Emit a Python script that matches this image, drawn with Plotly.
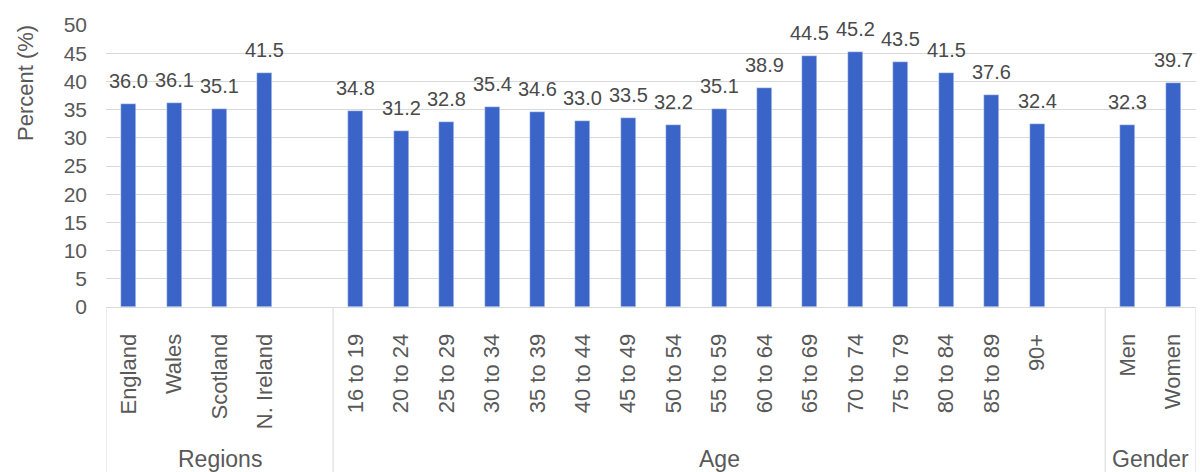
import plotly.graph_objects as go

# ---- data ----
regions = ["England", "Wales", "Scotland", "N. Ireland"]
region_values = [36.0, 36.1, 35.1, 41.5]
ages = ["16 to 19", "20 to 24", "25 to 29", "30 to 34", "35 to 39", "40 to 44",
        "45 to 49", "50 to 54", "55 to 59", "60 to 64", "65 to 69", "70 to 74",
        "75 to 79", "80 to 84", "85 to 89", "90+"]
age_values = [34.8, 31.2, 32.8, 35.4, 34.6, 33.0, 33.5, 32.2, 35.1, 38.9,
              44.5, 45.2, 43.5, 41.5, 37.6, 32.4]
genders = ["Men", "Women"]
gender_values = [32.3, 39.7]
group_names = ["Regions", "Age", "Gender"]

groups = [(regions, region_values), (ages, age_values), (genders, gender_values)]

# ---- build positions (one blank slot after each group except last) ----
xs, ys, labels = [], [], []
group_bounds = []
pos = 0
for gi, (cats, vals) in enumerate(groups):
    start = pos
    for c, v in zip(cats, vals):
        xs.append(pos)
        ys.append(v)
        labels.append(c)
        pos += 1
    if gi < len(groups) - 1:
        pos += 1  # blank slot
    group_bounds.append((start - 0.5, pos - 0.5))
n_slots = pos

BAR = "#3B64C8"
TXT = "#595959"
GRID = "#d9d9d9"
FONT = "Liberation Sans, Arial, sans-serif"

fig = go.Figure()
fig.add_trace(go.Bar(x=xs, y=ys, marker_color=BAR, width=0.33,
                     hoverinfo="x+y"))

W, H = 1200, 472
ml, mr, mt, mb = 106, 4, 25, 165
ph = H - mt - mb

annotations = []
for x, y in zip(xs, ys):
    annotations.append(dict(x=x, y=y, xref="x", yref="y", text=f"{y:.1f}",
                            showarrow=False, yanchor="bottom", yshift=10,
                            font=dict(size=20, color="#4a4a4a", family=FONT)))

shapes = []
bottom = -mb / ph
edges = sorted(set([b[0] for b in group_bounds] + [b[1] for b in group_bounds]))
for e in edges:
    shapes.append(dict(type="line", xref="x", yref="paper", x0=e, x1=e,
                       y0=0, y1=bottom, line=dict(color=GRID, width=1)))

label_y = (307 - 459) / ph
for name, (a, b) in zip(group_names, group_bounds):
    annotations.append(dict(x=(a + b) / 2, y=label_y, xref="x", yref="paper",
                            text=name, showarrow=False, yanchor="middle",
                            font=dict(size=23, color=TXT, family=FONT)))

annotations.append(dict(x=(25 - ml) / (W - ml - mr), y=(307 - 83) / ph,
                        xref="paper", yref="paper", text="Percent (%)",
                        textangle=-90, showarrow=False,
                        xanchor="center", yanchor="middle",
                        font=dict(size=22, color=TXT, family=FONT)))

fig.update_layout(
    width=W, height=H,
    margin=dict(l=ml, r=mr, t=mt, b=mb),
    paper_bgcolor="white", plot_bgcolor="white",
    showlegend=False,
    font=dict(family=FONT, color=TXT),
    annotations=annotations,
    shapes=shapes,
    bargap=0,
)
fig.update_xaxes(range=[-0.5, n_slots - 0.5], tickmode="array",
                 tickvals=xs, ticktext=labels, tickangle=-90,
                 tickfont=dict(size=22, color=TXT, family=FONT),
                 showline=True, linecolor=GRID, linewidth=1,
                 showgrid=False, zeroline=False, ticks="", ticklabelstandoff=17)
fig.update_yaxes(range=[0, 50], dtick=5, tick0=0,
                 showgrid=True, gridcolor=GRID, gridwidth=1,
                 zeroline=False, showline=False,
                 tickfont=dict(size=21, color=TXT, family=FONT),
                 ticks="", ticklabelstandoff=18)

fig.write_html("out.html")
